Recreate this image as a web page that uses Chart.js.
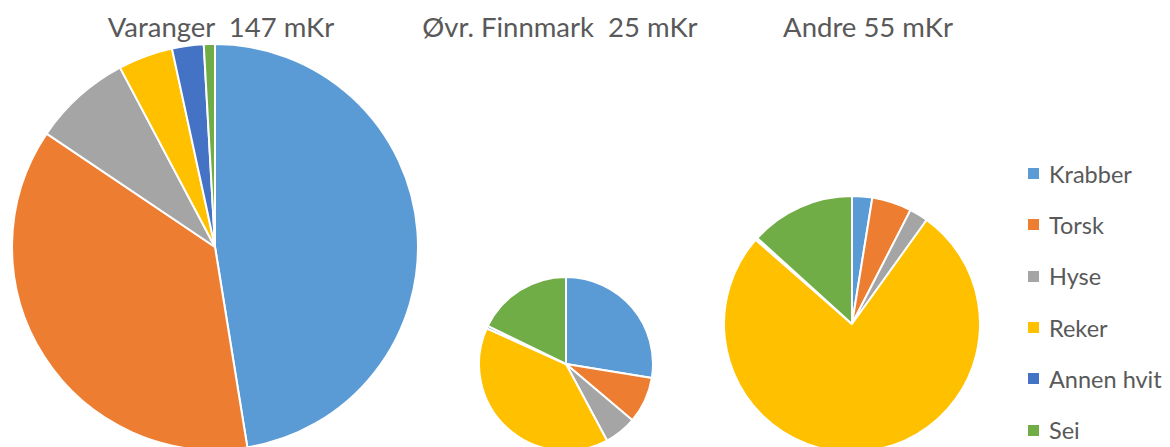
<!DOCTYPE html>
<html>
<head>
<meta charset="utf-8">
<script src="https://cdn.jsdelivr.net/npm/chart.js@4/dist/chart.umd.min.js"></script>
<style>
  html, body { margin: 0; padding: 0; background: #fff; }
  #wrap { position: relative; width: 1170px; height: 447px; overflow: hidden; font-family: Lato, "Open Sans", sans-serif; color: #595959; }
  #wrap canvas { position: absolute; }
  .title { position: absolute; width: 400px; text-align: center; white-space: pre; font-size: 27.5px; line-height: 30px; }
  .legend { position: absolute; left: 1028px; top: 148px; }
  .legend div { height: 51.3px; display: flex; align-items: center; font-size: 23.5px; white-space: nowrap; }
  .legend span.box { display: inline-block; width: 11px; height: 11px; margin-right: 10px; }
</style>
</head>
<body>
<div id="wrap"></div>
<script>
// Data (mKr)
const categories = ['Krabber', 'Torsk', 'Hyse', 'Reker', 'Annen hvit', 'Sei'];
const varanger = [69.8, 54.4, 11.5, 6.4, 3.7, 1.3];
const ovrFinnmark = [6.9, 2.15, 1.5, 9.9, 0.12, 4.45];
const andre = [1.4, 2.75, 1.3, 42.1, 0.15, 7.3];
const titles = ['Varanger  147 mKr', 'Øvr. Finnmark  25 mKr', 'Andre 55 mKr'];
const colors = ['#5B9BD5', '#ED7D31', '#A5A5A5', '#FFC000', '#4472C4', '#70AD47'];

const wrap = document.getElementById('wrap');

// layout of each pie: center and radius in px
const pies = [
    { data: varanger, title: titles[0], cx: 215, cy: 247, r: 203, tx: 221 },
    { data: ovrFinnmark, title: titles[1], cx: 566, cy: 364, r: 87, tx: 560 },
    { data: andre, title: titles[2], cx: 852, cy: 324, r: 128, tx: 868 }
];

pies.forEach(function (p) {
    let t = document.createElement('div');
    t.className = 'title';
    t.textContent = p.title;
    t.style.left = (p.tx - 200) + 'px';
    t.style.top = '12px';
    wrap.appendChild(t);

    let size = 2 * p.r + 2;
    let canvas = document.createElement('canvas');
    canvas.width = size;
    canvas.height = size;
    canvas.style.left = (p.cx - size / 2) + 'px';
    canvas.style.top = (p.cy - size / 2) + 'px';
    wrap.appendChild(canvas);

    new Chart(canvas.getContext('2d'), {
        type: 'pie',
        data: {
            labels: categories,
            datasets: [{
                data: p.data,
                backgroundColor: colors,
                borderColor: '#ffffff',
                borderWidth: 2
            }]
        },
        options: {
            responsive: false,
            animation: false,
            layout: { padding: 0 },
            plugins: {
                legend: { display: false },
                tooltip: { enabled: false }
            }
        }
    });
});

// Legend
let legend = document.createElement('div');
legend.className = 'legend';
categories.forEach(function (name, i) {
    let row = document.createElement('div');
    let box = document.createElement('span');
    box.className = 'box';
    box.style.background = colors[i];
    row.appendChild(box);
    row.appendChild(document.createTextNode(name));
    legend.appendChild(row);
});
wrap.appendChild(legend);
</script>
</body>
</html>
